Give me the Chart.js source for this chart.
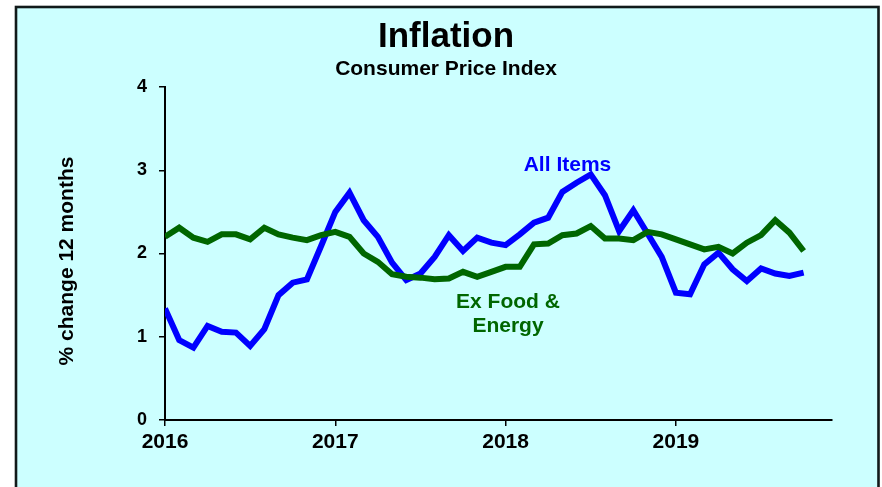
<!DOCTYPE html>
<html>
<head>
<meta charset="utf-8">
<script src="https://cdn.jsdelivr.net/npm/chart.js@4.4.1/dist/chart.umd.min.js"></script>
<style>
  html, body { margin: 0; padding: 0; background: #ffffff; }
  #wrap { width: 882px; height: 487px; }
</style>
</head>
<body>
<div id="wrap"><canvas id="cpiChart" width="882" height="487"></canvas></div>
<script>
// monthly, Jan 2016 .. Oct 2019, % change over 12 months
const allItems = [
  1.34, 0.96, 0.87, 1.13, 1.06, 1.05, 0.89, 1.09, 1.50, 1.65, 1.69, 2.09,
  2.50, 2.73, 2.40, 2.20, 1.89, 1.68, 1.76, 1.96, 2.22, 2.03, 2.19, 2.13,
  2.10, 2.23, 2.37, 2.43, 2.74, 2.85, 2.95, 2.70, 2.27, 2.52, 2.24, 1.96,
  1.53, 1.51, 1.87, 2.01, 1.81, 1.67, 1.82, 1.76, 1.73, 1.77
];
const exFoodEnergy = [
  2.20, 2.31, 2.19, 2.14, 2.23, 2.23, 2.17, 2.31, 2.23, 2.19, 2.16, 2.22,
  2.26, 2.20, 2.00, 1.90, 1.75, 1.72, 1.71, 1.69, 1.70, 1.78, 1.72, 1.78,
  1.84, 1.84, 2.11, 2.12, 2.22, 2.24, 2.33, 2.18, 2.18, 2.16, 2.26, 2.23,
  2.17, 2.11, 2.05, 2.08, 2.00, 2.13, 2.22, 2.40, 2.25, 2.03
];
const yearTicks = [0, 12, 24, 36];
const yearLabels = ['2016', '2017', '2018', '2019'];
const yTicks = [0, 1, 2, 3, 4];

const months = allItems.map((_, i) => i);
const FONT = "'Liberation Sans', Arial, Helvetica, sans-serif";

// background box, titles and in-chart labels
const decorPlugin = {
  id: 'decor',
  beforeDraw(chart) {
    const ctx = chart.ctx;
    ctx.save();
    ctx.fillStyle = '#ffffff';
    ctx.fillRect(0, 0, chart.width, chart.height);
    ctx.fillStyle = '#ccffff';
    ctx.fillRect(16, 7, 862, chart.height);
    ctx.strokeStyle = '#111a1a';
    ctx.lineWidth = 2.6;
    ctx.strokeRect(16, 7, 862.5, chart.height + 10);
    ctx.restore();
  },
  afterDraw(chart) {
    const ctx = chart.ctx;
    const x = chart.scales.x, y = chart.scales.y;
    ctx.save();
    ctx.fillStyle = '#000000';
    ctx.textAlign = 'center';
    ctx.textBaseline = 'alphabetic';
    ctx.font = 'bold 35px ' + FONT;
    ctx.fillText('Inflation', 446, 47);
    ctx.font = 'bold 21px ' + FONT;
    ctx.fillText('Consumer Price Index', 446, 75);

    // y axis title
    ctx.save();
    ctx.translate(73, 261);
    ctx.rotate(-Math.PI / 2);
    ctx.fillText('% change 12 months', 0, 0);
    ctx.restore();

    // series labels
    ctx.fillStyle = '#0000ff';
    ctx.fillText('All Items', x.getPixelForValue(28.36), y.getPixelForValue(2.99));
    ctx.fillStyle = '#006600';
    const ex = x.getPixelForValue(24.17), ey = y.getPixelForValue(1.346);
    ctx.fillText('Ex Food &', ex, ey);
    ctx.fillText('Energy', ex, ey + 24);
    ctx.restore();
  }
};

new Chart(document.getElementById('cpiChart'), {
  type: 'line',
  data: {
    labels: months,
    datasets: [
      {
        label: 'Ex Food & Energy',
        data: exFoodEnergy.map((v, i) => ({ x: months[i], y: v })),
        borderColor: '#006600',
        borderWidth: 6,
        pointRadius: 0,
        tension: 0
      },
      {
        label: 'All Items',
        data: allItems.map((v, i) => ({ x: months[i], y: v })),
        borderColor: '#0000ff',
        borderWidth: 6,
        pointRadius: 0,
        tension: 0
      }
    ]
  },
  options: {
    responsive: false,
    animation: false,
    events: [],
    layout: { padding: { left: 50, top: 87, right: 50, bottom: 27 } },
    plugins: {
      legend: { display: false },
      tooltip: { enabled: false }
    },
    scales: {
      x: {
        type: 'linear',
        min: 0,
        max: 47,
        afterFit(scale) { scale.height = 40; },
        afterBuildTicks(scale) { scale.ticks = yearTicks.map(v => ({ value: v })); },
        grid: { drawOnChartArea: false, drawTicks: true, tickLength: 6, color: '#000000', lineWidth: 1.5 },
        border: { display: true, color: '#000000', width: 2 },
        ticks: {
          color: '#000000',
          font: { family: FONT, size: 21, weight: 'bold' },
          padding: 4,
          maxRotation: 0,
          autoSkip: false,
          callback: (v) => yearLabels[yearTicks.indexOf(v)]
        }
      },
      y: {
        min: 0,
        max: 4,
        afterFit(scale) { scale.width = 115; },
        afterBuildTicks(scale) { scale.ticks = yTicks.map(v => ({ value: v })); },
        grid: { drawOnChartArea: false, drawTicks: true, tickLength: 6, color: '#000000', lineWidth: 1.5 },
        border: { display: true, color: '#000000', width: 2 },
        ticks: {
          color: '#000000',
          font: { family: FONT, size: 18, weight: 'bold' },
          padding: 12
        }
      }
    }
  },
  plugins: [decorPlugin]
});
</script>
</body>
</html>
